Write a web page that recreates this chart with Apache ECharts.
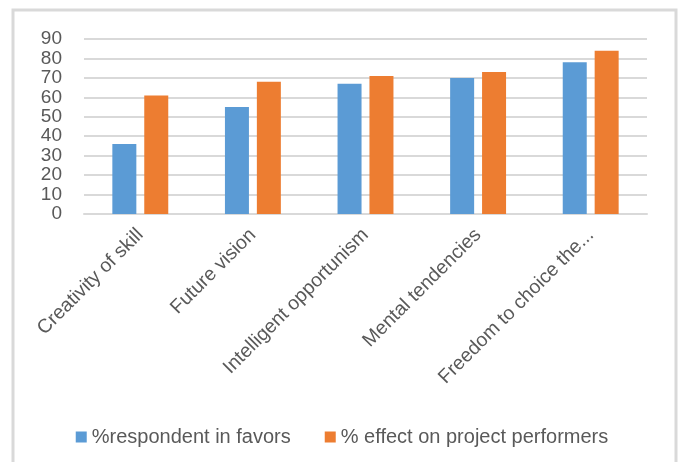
<!DOCTYPE html>
<html>
<head>
<meta charset="utf-8">
<script src="https://cdn.jsdelivr.net/npm/echarts@6/dist/echarts.min.js"></script>
<style>
  html, body { margin: 0; padding: 0; background: #fff; }
  #chart { width: 684px; height: 462px; }
</style>
</head>
<body>
<div id="chart"></div>
<script>
// categories and values
const categories = ['Creativity of skill', 'Future vision', 'Intelligent opportunism', 'Mental tendencies', 'Freedom to choice the...']
const respondentInFavors = [36, 55, 67, 70, 78]
const effectOnPerformers = [61, 68, 71, 73, 84]
const seriesNames = ['%respondent in favors', '% effect on project performers']

const chart = echarts.init(document.getElementById('chart'))
const font = '"Liberation Sans", Arial, sans-serif'

const option = {
  animation: false,
  backgroundColor: '#fff',
  graphic: [
    { // frame round the chart
      type: 'rect',
      shape: { x: 13, y: 10, width: 663, height: 470 },
      style: { fill: 'none', stroke: '#d9d9d9', lineWidth: 3 },
      silent: true
    }
  ],
  grid: {
    left: 84,
    right: 37,
    top: 39,
    bottom: 248
  },
  legend: {
    top: 422,
    left: 'center',
    itemWidth: 11,
    itemHeight: 11,
    itemGap: 34,
    icon: 'rect',
    textStyle: { color: '#595959', fontSize: 20, fontFamily: font }
  },
  xAxis: {
    type: 'category',
    data: categories,
    axisLine: { lineStyle: { color: '#d9d9d9', width: 2 } },
    axisTick: { show: false },
    axisLabel: {
      rotate: 45,
      margin: 18,
      color: '#595959',
      fontSize: 19.5,
      fontFamily: font,
      interval: 0
    }
  },
  yAxis: {
    type: 'value',
    min: 0,
    max: 90,
    interval: 10,
    axisLine: { show: false },
    axisTick: { show: false },
    axisLabel: {
      margin: 22,
      color: '#595959',
      fontSize: 19,
      fontFamily: font,
      showMinLabel: true,
      showMaxLabel: true,
      hideOverlap: false
    },
    splitLine: { lineStyle: { color: '#d9d9d9', width: 2 } }
  },
  series: [
    {
      name: seriesNames[0],
      type: 'bar',
      data: respondentInFavors,
      barWidth: 24,
      barGap: '33%',
      itemStyle: { color: '#5b9bd5' }
    },
    {
      name: seriesNames[1],
      type: 'bar',
      data: effectOnPerformers,
      barWidth: 24,
      itemStyle: { color: '#ed7d31' }
    }
  ]
}
chart.setOption(option)
</script>
</body>
</html>
